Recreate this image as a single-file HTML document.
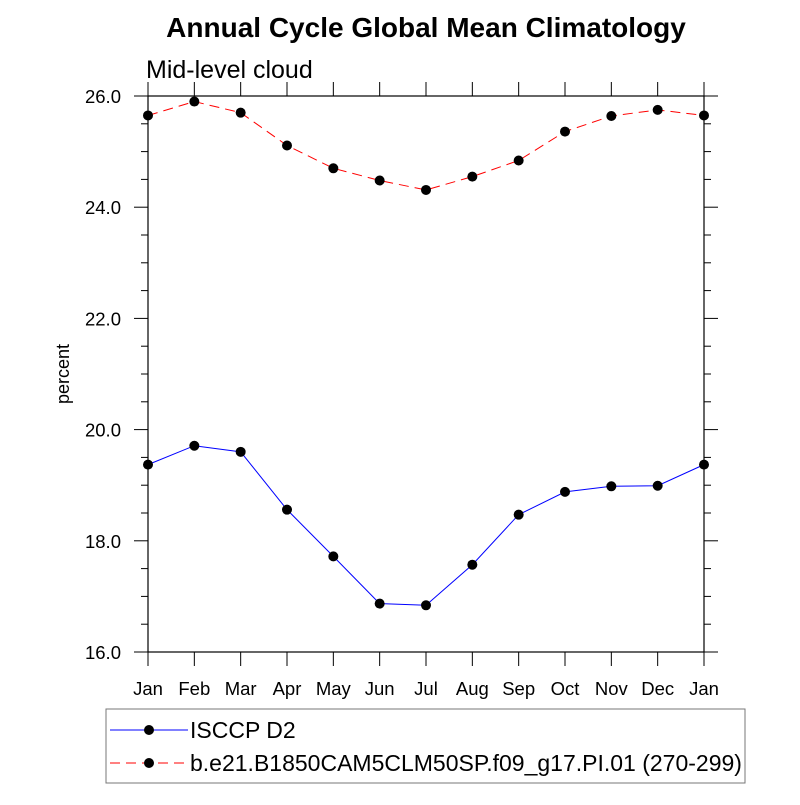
<!DOCTYPE html>
<html><head><meta charset="utf-8"><style>
body{margin:0;background:#fff;}
svg text{font-family:"Liberation Sans",Arial,sans-serif;}
</style></head><body>
<svg id="chart" width="800" height="800" viewBox="0 0 800 800" xmlns="http://www.w3.org/2000/svg">
<rect width="800" height="800" fill="#fff"/>
<text x="426" y="37" font-size="28" font-weight="bold" text-anchor="middle">Annual Cycle Global Mean Climatology</text>
<text x="146" y="78" font-size="25">Mid-level cloud</text>
<text transform="translate(69,374) rotate(-90)" font-size="18" text-anchor="middle">percent</text>
<g id="axes"></g>
<g id="series"></g>
<g>
<rect x="106" y="709" width="639" height="74" fill="none" stroke="#777" stroke-width="1"/>
<g>
<line x1="110" y1="730" x2="188" y2="730" stroke="#00f" stroke-width="1"/>
<circle cx="149" cy="730" r="5" fill="#000"/>
<text x="190" y="738" font-size="23">ISCCP D2</text>
</g>
<g>
<line x1="110" y1="763" x2="188" y2="763" stroke="#f00" stroke-width="1" stroke-dasharray="10,6"/>
<circle cx="149" cy="763" r="5" fill="#000"/>
<text x="190" y="771" font-size="23">b.e21.B1850CAM5CLM50SP.f09_g17.PI.01 (270-299)</text>
</g>
</g>
</svg>
<script>
const months = ["Jan","Feb","Mar","Apr","May","Jun","Jul","Aug","Sep","Oct","Nov","Dec","Jan"];
const isccpValues = [19.37,19.71,19.6,18.56,17.72,16.87,16.84,17.57,18.47,18.88,18.98,18.99,19.37];
const modelValues = [25.65,25.9,25.7,25.11,24.7,24.48,24.31,24.55,24.84,25.36,25.64,25.75,25.65];
const yTicks = [16,18,20,22,24,26];
const yTickLabels = ["16.0","18.0","20.0","22.0","24.0","26.0"];

const L=148,R=704,T=96,B=652,ymin=16,ymax=26;
const xs=i=>L+(R-L)*i/(months.length-1);
const ys=v=>B-(B-T)*(v-ymin)/(ymax-ymin);
const NS="http://www.w3.org/2000/svg";
function mk(tag,attrs,parent){const e=document.createElementNS(NS,tag);for(const k in attrs)e.setAttribute(k,attrs[k]);parent.appendChild(e);return e;}
const ax=document.getElementById('axes');
const frame=mk('rect',{x:L,y:T,width:R-L,height:B-T,fill:'none',stroke:'#000','stroke-width':1.2},ax);


months.forEach((m,i)=>{
  const x=xs(i);
  const t1=mk('line',{x1:x,y1:B,x2:x,y2:B+14,stroke:'#000'},ax);
  
  
  const t2=mk('line',{x1:x,y1:T,x2:x,y2:T-14,stroke:'#000'},ax);
  
  
  const tx=mk('text',{x:x,y:B+43,'font-size':18.5,'text-anchor':'middle'},ax);
  tx.textContent=m;
  
  
});
for(let v=ymin;v<=ymax+1e-9;v+=0.5){
  const major=Math.abs(v/2-Math.round(v/2))<1e-9;
  const len=major?14:7;const y=ys(v);
  const a=mk('line',{x1:L-len,y1:y,x2:L,y2:y,stroke:'#000'},ax);
  
  
  const b=mk('line',{x1:R,y1:y,x2:R+len,y2:y,stroke:'#000'},ax);
  
  
}
yTicks.forEach((v,i)=>{
  const t=mk('text',{x:L-27,y:ys(v)+7,'font-size':18.5,'text-anchor':'end'},ax);
  t.textContent=yTickLabels[i];
  
  
});
const sg=document.getElementById('series');
function drawSeries(vals,color,dash,name){
  const g=mk('g',{},sg);
  
  
  const p=mk('polyline',{points:vals.map((v,i)=>xs(i)+','+ys(v)).join(' '),fill:'none',stroke:color,'stroke-width':1,'stroke-dasharray':dash},g);
  
  
  vals.forEach((v,i)=>{
    const c=mk('circle',{cx:xs(i),cy:ys(v),r:5,fill:'#000'},g);
    
    
  });
}
drawSeries(modelValues,'#f00','10,6','model-series');
drawSeries(isccpValues,'#00f','none','isccp-series');
</script>
</body></html>
